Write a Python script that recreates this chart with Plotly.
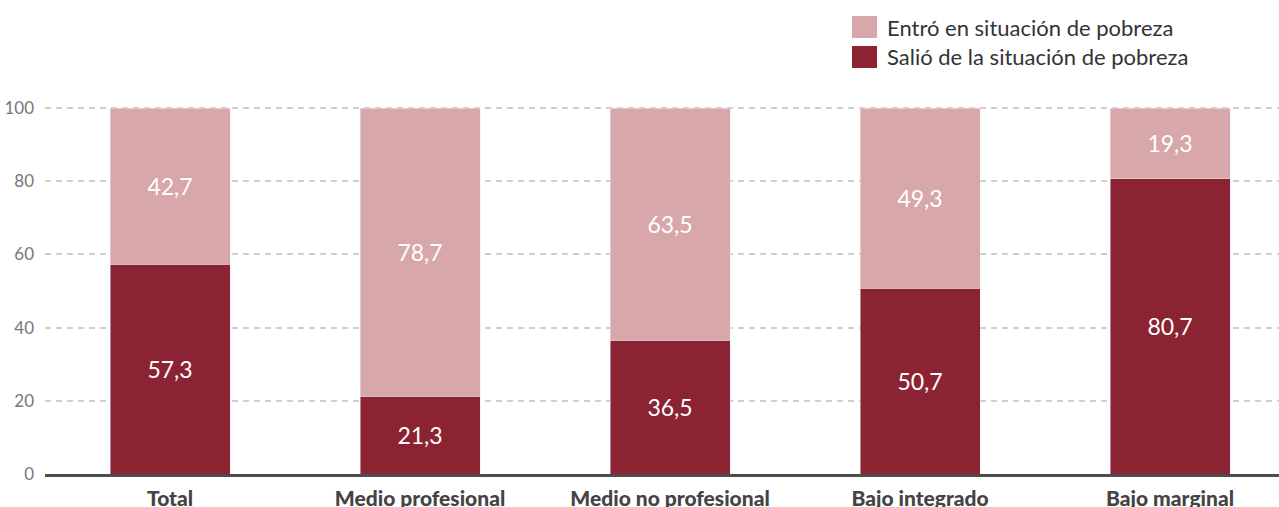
import plotly.graph_objects as go

categories = ["Total", "Medio profesional", "Medio no profesional", "Bajo integrado", "Bajo marginal"]
salio = [57.3, 21.3, 36.5, 50.7, 80.7]
entro = [42.7, 78.7, 63.5, 49.3, 19.3]
y_ticks = [0, 20, 40, 60, 80, 100]
legend_labels = ["Entró en situación de pobreza", "Salió de la situación de pobreza"]

DARK = "#8B2332"
LIGHT = "#D8A7A9"
FONT = "Lato"

fig = go.Figure()
fig.add_trace(go.Bar(
    x=categories, y=salio, name=legend_labels[1], marker_color=DARK,
    texttemplate="%{y:.1f}", textposition="inside", insidetextanchor="middle",
    textfont=dict(color="white", size=23, family=FONT), showlegend=False,
))
fig.add_trace(go.Bar(
    x=categories, y=entro, name=legend_labels[0], marker_color=LIGHT,
    texttemplate="%{y:.1f}", textposition="inside", insidetextanchor="middle",
    textfont=dict(color="white", size=23, family=FONT), showlegend=False,
))

# manual legend
for i, (lab, col) in enumerate(zip(legend_labels, [LIGHT, DARK])):
    yc = 27 + i * 30
    fig.add_shape(type="rect", xref="paper", yref="paper",
                  x0=(852 - 45) / 1234, x1=(877 - 45) / 1234,
                  y0=(474 - (yc + 11)) / 374, y1=(474 - (yc - 11)) / 374,
                  fillcolor=col, line_width=0)
    fig.add_annotation(xref="paper", yref="paper", x=(885 - 45) / 1234,
                       y=(474 - yc) / 374, text=lab, showarrow=False,
                       xanchor="left", yanchor="middle",
                       font=dict(family=FONT, size=22, color="#333333"))

fig.update_layout(
    barmode="stack", bargap=0.52, separators=",.",
    width=1279, height=507,
    margin=dict(l=45, r=0, t=100, b=33),
    plot_bgcolor="white", paper_bgcolor="white",
    font=dict(family=FONT),
)
fig.update_xaxes(
    range=[-0.5, 4.436], showgrid=False, showline=True, linecolor="#4d4d4d", linewidth=3,
    tickfont=dict(family=FONT, size=21, color="#444444", weight=900),
    ticks="", ticklabelstandoff=4, automargin=False,
)
fig.update_yaxes(
    range=[0, 102.2], tickvals=y_ticks, showgrid=True, gridcolor="#cfcfcf", gridwidth=1.5,
    griddash="6px,5px", zeroline=False, showline=False,
    tickfont=dict(family=FONT, size=17, color="#777777"), ticklabelstandoff=10,
    automargin=False,
)

fig.write_html("out.html", config={"displayModeBar": False},
               post_script="document.body.style.margin='0';document.body.style.overflow='hidden';")
